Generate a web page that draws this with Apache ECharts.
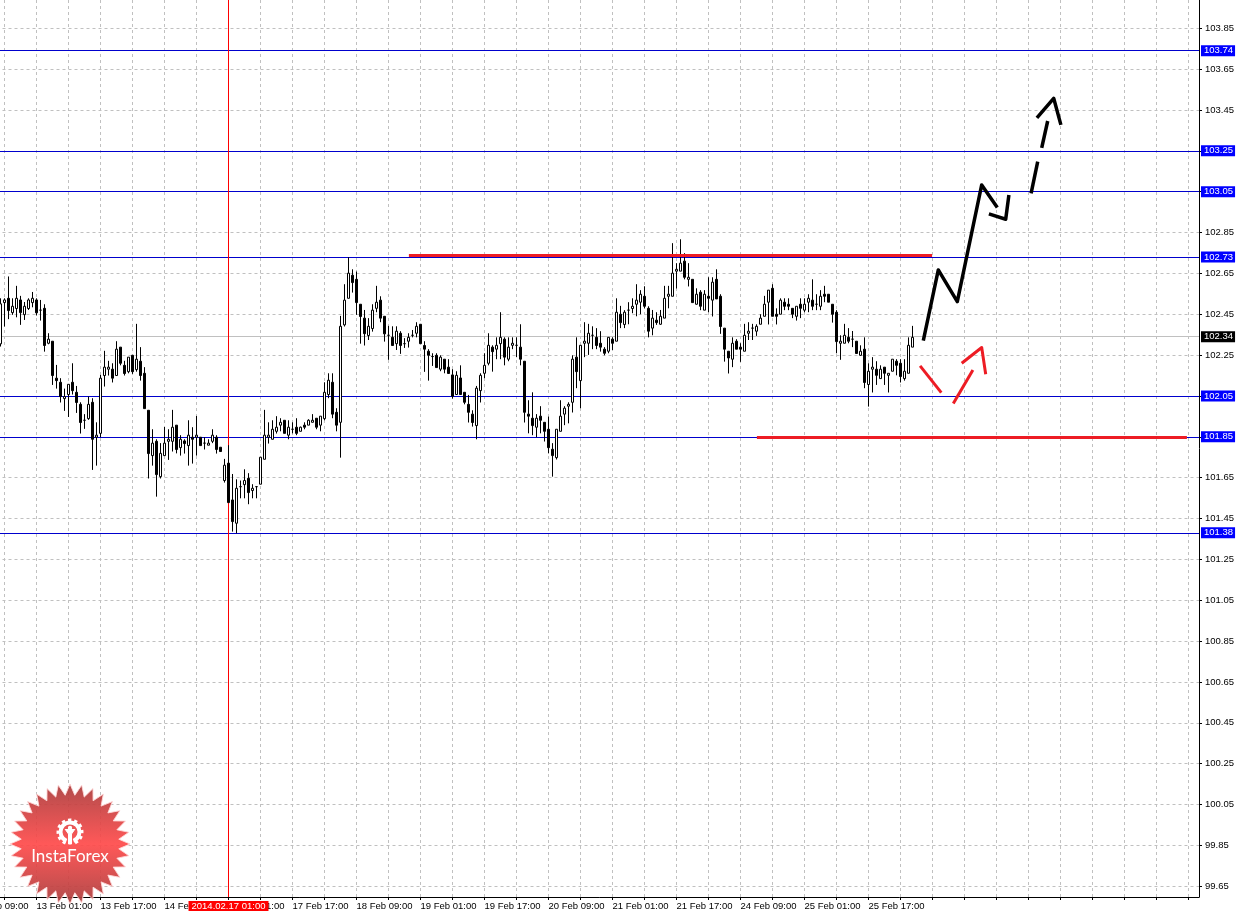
<!DOCTYPE html>
<html>
<head>
<meta charset="utf-8">
<title>USD/JPY H1</title>
<script src="https://cdn.jsdelivr.net/npm/echarts@6/dist/echarts.min.js"></script>
<style>
html, body { margin: 0; padding: 0; background: #fff; }
#chart { width: 1250px; height: 915px; }
</style>
</head>
<body>
<div id="chart"></div>
<script>
// hourly bars, first one sits at hour index 7 of the axis
const firstBar = 7
// open, close, low, high
const candles = [
  [102.305,102.501,102.292,102.528],[102.507,102.520,102.390,102.528],[102.528,102.468,102.426,102.635],[102.458,102.489,102.447,102.528],
  [102.478,102.528,102.435,102.589],[102.520,102.458,102.398,102.540],[102.448,102.489,102.422,102.510],[102.478,102.520,102.471,102.528],
  [102.507,102.528,102.484,102.559],[102.520,102.457,102.444,102.528],[102.470,102.470,102.419,102.520],[102.479,102.297,102.267,102.499],
  [102.308,102.328,102.303,102.357],[102.318,102.150,102.104,102.318],[102.137,102.125,102.086,102.202],[102.117,102.047,102.018,102.137],
  [102.037,102.047,101.977,102.086],[102.057,102.107,101.947,102.107],[102.117,102.076,102.057,102.210],[102.068,102.018,101.967,102.099],
  [102.009,101.920,101.866,102.019],[101.931,101.931,101.889,101.961],[101.939,102.009,101.933,102.047],[102.019,101.838,101.688,102.039],
  [101.848,101.858,101.709,101.921],[101.867,102.137,101.848,102.153],[102.150,102.191,102.096,102.271],[102.181,102.191,102.150,102.222],
  [102.181,102.137,102.116,102.210],[102.150,102.279,102.150,102.318],[102.289,102.210,102.200,102.289],[102.200,102.160,102.150,102.222],
  [102.169,102.240,102.161,102.240],[102.249,102.169,102.158,102.249],[102.179,102.230,102.169,102.403],[102.220,102.150,102.125,102.289],
  [102.161,101.988,101.988,102.191],[101.980,101.768,101.646,101.980],[101.758,101.819,101.709,101.887],[101.828,101.665,101.557,101.838],
  [101.655,101.769,101.646,101.819],[101.758,101.819,101.758,101.898],[101.828,101.838,101.737,101.887],[101.828,101.897,101.778,101.982],
  [101.907,101.788,101.769,101.907],[101.797,101.838,101.758,101.858],[101.830,101.817,101.768,101.838],[101.807,101.858,101.709,101.931],
  [101.848,101.838,101.719,101.897],[101.848,101.858,101.758,101.952],[101.848,101.807,101.807,101.848],[101.819,101.819,101.788,101.848],
  [101.809,101.819,101.809,101.838],[101.828,101.858,101.819,101.887],[101.848,101.788,101.768,101.858],[101.799,101.778,101.778,101.799],
  [101.636,101.711,101.626,101.742],[101.721,101.528,101.528,101.809],[101.541,101.435,101.386,101.668],[101.427,101.598,101.378,101.642],
  [101.606,101.606,101.549,101.636],[101.616,101.636,101.549,101.691],[101.647,101.577,101.520,101.672],[101.587,101.598,101.549,101.618],
  [101.606,101.606,101.549,101.606],[101.618,101.750,101.618,101.750],[101.740,101.858,101.740,101.982],[101.848,101.858,101.817,101.921],
  [101.838,101.887,101.838,101.931],[101.877,101.897,101.866,101.951],[101.907,101.921,101.877,101.941],[101.931,101.867,101.867,101.931],
  [101.858,101.897,101.838,101.931],[101.887,101.887,101.867,101.921],[101.897,101.867,101.858,101.941],[101.877,101.897,101.877,101.900],
  [101.907,101.897,101.887,101.921],[101.907,101.931,101.907,101.936],[101.921,101.931,101.921,101.961],[101.941,101.897,101.887,101.941],
  [101.907,101.951,101.877,101.951],[101.939,102.068,101.931,102.117],[102.057,102.127,102.039,102.161],[102.117,101.961,101.941,102.161],
  [101.970,101.907,101.877,101.990],[101.921,102.391,101.748,102.442],[102.398,102.519,102.390,102.597],[102.528,102.651,102.528,102.729],
  [102.641,102.605,102.556,102.670],[102.621,102.507,102.447,102.659],[102.499,102.439,102.306,102.499],[102.431,102.355,102.297,102.471],
  [102.346,102.391,102.324,102.431],[102.380,102.470,102.365,102.499],[102.479,102.509,102.460,102.589],[102.519,102.431,102.411,102.538],
  [102.440,102.354,102.316,102.440],[102.347,102.347,102.227,102.393],[102.337,102.297,102.297,102.391],[102.306,102.367,102.275,102.391],
  [102.357,102.297,102.256,102.367],[102.306,102.306,102.285,102.333],[102.318,102.337,102.287,102.357],[102.347,102.347,102.337,102.373],
  [102.357,102.391,102.337,102.411],[102.401,102.306,102.306,102.401],[102.297,102.279,102.168,102.318],[102.269,102.249,102.125,102.279],
  [102.243,102.243,102.197,102.259],[102.249,102.189,102.189,102.259],[102.181,102.240,102.171,102.249],[102.230,102.181,102.161,102.230],
  [102.191,102.160,102.160,102.230],[102.153,102.049,102.037,102.181],[102.057,102.151,102.057,102.171],[102.138,102.057,102.057,102.200],
  [102.068,102.019,102.009,102.068],[102.009,101.970,101.920,102.055],[101.961,101.920,101.900,101.980],[101.905,102.088,101.838,102.099],
  [102.076,102.151,102.018,102.161],[102.161,102.200,102.137,102.259],[102.210,102.298,102.200,102.357],[102.289,102.267,102.169,102.298],
  [102.279,102.298,102.230,102.337],[102.306,102.337,102.230,102.460],[102.328,102.240,102.200,102.337],[102.230,102.289,102.220,102.337],
  [102.298,102.308,102.279,102.337],[102.298,102.298,102.240,102.337],[102.289,102.230,102.200,102.401],[102.220,101.970,101.920,102.220],
  [101.961,101.951,101.867,102.029],[101.941,101.905,101.858,102.068],[101.897,101.941,101.848,101.961],[101.951,101.931,101.867,102.000],
  [101.921,101.877,101.827,101.921],[101.887,101.797,101.769,101.949],[101.789,101.758,101.655,101.819],[101.748,101.887,101.739,101.887],
  [101.877,101.951,101.877,102.029],[101.961,101.990,101.907,102.000],[102.000,102.009,101.916,102.019],[102.019,102.230,101.969,102.249],
  [102.240,102.169,102.088,102.337],[102.125,102.298,101.990,102.298],[102.308,102.318,102.240,102.411],[102.308,102.357,102.251,102.403],
  [102.347,102.347,102.279,102.391],[102.337,102.297,102.279,102.382],[102.308,102.289,102.267,102.367],[102.279,102.259,102.249,102.289],
  [102.269,102.337,102.259,102.337],[102.328,102.308,102.275,102.337],[102.318,102.460,102.318,102.528],[102.450,102.409,102.382,102.491],
  [102.400,102.460,102.382,102.470],[102.470,102.470,102.401,102.509],[102.478,102.489,102.455,102.528],[102.499,102.519,102.440,102.597],
  [102.509,102.548,102.450,102.568],[102.538,102.489,102.479,102.587],[102.479,102.367,102.337,102.489],[102.382,102.431,102.347,102.471],
  [102.421,102.409,102.398,102.460],[102.401,102.440,102.398,102.471],[102.431,102.528,102.431,102.589],[102.538,102.548,102.479,102.589],
  [102.538,102.651,102.538,102.798],[102.661,102.670,102.576,102.700],[102.661,102.700,102.661,102.817],[102.710,102.631,102.621,102.749],
  [102.621,102.631,102.586,102.700],[102.621,102.507,102.507,102.621],[102.499,102.548,102.497,102.577],[102.558,102.489,102.470,102.568],
  [102.470,102.548,102.470,102.568],[102.538,102.528,102.460,102.631],[102.519,102.607,102.439,102.631],[102.621,102.525,102.525,102.670],
  [102.538,102.390,102.354,102.548],[102.382,102.279,102.218,102.382],[102.269,102.236,102.160,102.269],[102.230,102.308,102.191,102.337],
  [102.318,102.279,102.279,102.328],[102.289,102.279,102.217,102.308],[102.269,102.347,102.269,102.403],[102.357,102.367,102.324,102.411],
  [102.382,102.382,102.324,102.403],[102.367,102.391,102.344,102.401],[102.401,102.431,102.401,102.450],[102.440,102.499,102.440,102.540],
  [102.509,102.568,102.400,102.568],[102.577,102.440,102.440,102.597],[102.450,102.440,102.400,102.479],[102.450,102.519,102.450,102.528],
  [102.509,102.489,102.470,102.528],[102.499,102.489,102.470,102.528],[102.479,102.450,102.431,102.479],[102.440,102.489,102.419,102.489],
  [102.499,102.479,102.431,102.528],[102.470,102.499,102.460,102.528],[102.509,102.528,102.460,102.548],[102.519,102.489,102.470,102.621],
  [102.499,102.499,102.470,102.548],[102.489,102.538,102.470,102.568],[102.548,102.538,102.509,102.589],[102.548,102.509,102.509,102.548],
  [102.499,102.450,102.409,102.499],[102.460,102.316,102.259,102.470],[102.308,102.318,102.227,102.347],[102.308,102.347,102.308,102.403],
  [102.337,102.318,102.308,102.382],[102.328,102.328,102.289,102.368],[102.318,102.258,102.256,102.318],[102.249,102.269,102.246,102.298],
  [102.279,102.116,102.088,102.337],[102.106,102.171,101.998,102.210],[102.181,102.191,102.067,102.240],[102.181,102.151,102.104,102.220],
  [102.135,102.181,102.135,102.200],[102.191,102.161,102.104,102.191],[102.151,102.161,102.067,102.161],[102.171,102.230,102.171,102.230],
  [102.220,102.200,102.151,102.230],[102.210,102.145,102.116,102.230],[102.135,102.171,102.125,102.230],[102.161,102.298,102.161,102.337],
  [102.289,102.337,102.289,102.393]
]

const priceTicks = [99.65, 99.85, 100.05, 100.25, 100.45, 100.65, 100.85, 101.05, 101.25, 101.45, 101.65, 101.85,
  102.05, 102.25, 102.45, 102.65, 102.85, 103.05, 103.25, 103.45, 103.65, 103.85]
// one label every 16 bars
const timeLabels = ['12 Feb 09:00', '13 Feb 01:00', '13 Feb 17:00', '14 Feb 09:00', '17 Feb 01:00', '17 Feb 17:00', '18 Feb 09:00',
  '19 Feb 01:00', '19 Feb 17:00', '20 Feb 09:00', '21 Feb 01:00', '21 Feb 17:00', '24 Feb 09:00', '25 Feb 01:00', '25 Feb 17:00']

const blueLevels = [103.74, 103.25, 103.05, 102.73, 102.05, 101.85, 101.38]
const lastPrice = 102.34
const cursorBar = 64
const cursorLabel = '2014.02.17 01:00'

// hand drawn forecast, [bar, price]
const blackStrokes = [
  [[237.7, 102.321], [241.45, 102.667], [241.9, 102.667], [246.2, 102.512], [252.3, 103.083], [252.55, 103.086], [256.2, 102.972]],
  [[254.1, 102.941], [258.3, 102.915], [259.1, 103.034]],
  [[264.65, 103.042], [266.3, 103.197]],
  [[267.3, 103.264], [268.8, 103.396]],
  [[266.1, 103.411], [270.3, 103.507], [272.1, 103.377]]
]
const redStrokes = [
  [[236.9, 102.197], [242.2, 102.066]],
  [[245.2, 102.013], [250.1, 102.177]],
  [[247.3, 102.21], [252.3, 102.287], [253.3, 102.156]],
  [[109.1, 102.738], [239.9, 102.738]],
  [[196.1, 101.847], [303.6, 101.847]]
]

const axisFont = { fontFamily: 'Liberation Sans', fontSize: 9.5, color: '#000' }

function strokeSeries(points, color, width) {
  return {
    type: 'line',
    data: points,
    symbol: 'none',
    z: 6,
    silent: true,
    lineStyle: { color: color, width: width, cap: 'butt', join: 'round' }
  }
}

function levelLine(value, lineColor, boxColor) {
  return {
    yAxis: value,
    lineStyle: { color: lineColor, width: 1, type: 'solid' },
    label: {
      show: true,
      position: 'end',
      distance: 2,
      formatter: value.toFixed(2),
      color: '#fff',
      fontFamily: axisFont.fontFamily,
      fontSize: axisFont.fontSize,
      backgroundColor: boxColor,
      lineHeight: 11,
      padding: [0, 2, 0, 3]
    }
  }
}

// starburst badge in the corner
function logoGraphic() {
  const cx = 70
  const cy = 844
  const spikes = 32
  const points = []
  for (let i = 0; i < spikes * 2; i++) {
    const r = i % 2 === 0 ? 60 : 49
    const a = Math.PI * i / spikes - Math.PI / 2
    points.push([cx + r * Math.cos(a), cy + r * Math.sin(a)])
  }
  const white = '#fff'
  return [
    {
      type: 'polygon',
      z: 100,
      shape: { points: points },
      style: {
        stroke: 'rgba(255,215,215,0.9)',
        lineWidth: 1,
        fill: new echarts.graphic.LinearGradient(0, 0, 0, 1, [
          { offset: 0, color: 'rgba(170,60,60,0.92)' },
          { offset: 0.5, color: 'rgba(255,74,74,0.92)' },
          { offset: 1, color: 'rgba(170,60,60,0.92)' }
        ])
      }
    },
    {
      type: 'arc',
      z: 101,
      shape: { cx: cx, cy: 832, r: 9.5, startAngle: Math.PI * 0.62, endAngle: Math.PI * 0.38, clockwise: true },
      style: { stroke: white, fill: 'none', lineWidth: 4 }
    },
    {
      type: 'arc',
      z: 101,
      shape: { cx: cx, cy: 832, r: 12, startAngle: Math.PI * 0.62, endAngle: Math.PI * 0.38, clockwise: true },
      style: { stroke: white, fill: 'none', lineWidth: 3, lineDash: [3.2, 3] }
    },
    { type: 'circle', z: 101, shape: { cx: cx, cy: 828, r: 2.2 }, style: { fill: white } },
    {
      type: 'polyline',
      z: 101,
      shape: { points: [[cx - 5, 829], [cx - 1.5, 834], [cx - 1.5, 844], [cx + 1.5, 844], [cx + 1.5, 834], [cx + 5, 829]] },
      style: { stroke: white, fill: white, lineWidth: 1 }
    },
    {
      type: 'text',
      z: 101,
      style: {
        x: cx,
        y: 857,
        text: 'InstaForex',
        fill: white,
        fontFamily: 'Lato',
        fontSize: 17,
        align: 'center',
        verticalAlign: 'middle'
      }
    }
  ]
}

const chart = echarts.init(document.getElementById('chart'))

chart.setOption({
  animation: false,
  backgroundColor: '#fff',
  grid: { left: -27.5, right: 51, top: 0, height: 897, outerBoundsMode: 'none' },
  xAxis: {
    type: 'value',
    min: 0,
    max: 306.625,
    interval: 8,
    axisLine: { onZero: false, lineStyle: { color: '#000', width: 1 } },
    axisTick: { length: 3, lineStyle: { color: '#000' } },
    axisLabel: Object.assign({}, axisFont, {
      align: 'left',
      margin: 4,
      showMaxLabel: false,
      hideOverlap: false,
      formatter: function(v) {
        return v % 16 === 0 ? (timeLabels[v / 16] || '') : ''
      }
    }),
    splitLine: { show: true, lineStyle: { color: '#c0c0c0', type: [3, 3], width: 1 } }
  },
  yAxis: {
    type: 'value',
    position: 'right',
    min: 99.5973,
    max: 103.9883,
    axisLine: { show: true, onZero: false, lineStyle: { color: '#000', width: 1 } },
    axisTick: { show: true, length: 3, lineStyle: { color: '#000' }, customValues: priceTicks },
    axisLabel: Object.assign({}, axisFont, {
      margin: 6,
      customValues: priceTicks,
      formatter: function(v) {
        return v.toFixed(2)
      }
    }),
    splitLine: { show: true, lineStyle: { color: '#c0c0c0', type: [3, 3], width: 1 } }
  },
  graphic: logoGraphic(),
  series: [
    {
      type: 'candlestick',
      z: 5,
      barWidth: 2,
      silent: true,
      itemStyle: {
        color: '#fff',
        color0: '#000',
        borderColor: '#000',
        borderColor0: '#000',
        borderColorDoji: '#000',
        borderWidth: 1
      },
      data: candles.map(function(c, i) {
        return [firstBar + i].concat(c)
      }),
      markLine: {
        z: 1,
        silent: true,
        symbol: 'none',
        data: blueLevels.map(function(v) {
          return levelLine(v, '#0000cd', '#0000ff')
        }).concat([
          levelLine(lastPrice, '#c0c0c0', '#000'),
          {
            xAxis: cursorBar,
            lineStyle: { color: '#ff0000', width: 1, type: 'solid' },
            label: {
              show: true,
              position: 'start',
              distance: 4,
              formatter: cursorLabel,
              color: '#fff',
              fontFamily: axisFont.fontFamily,
              fontSize: axisFont.fontSize,
              backgroundColor: '#ff0000',
              padding: [0, 3, 0, 3]
            }
          }
        ])
      }
    }
  ].concat(
    blackStrokes.map(function(s) {
      return strokeSeries(s, '#000', 3.5)
    }),
    redStrokes.map(function(s) {
      return strokeSeries(s, '#ed1c24', 3)
    })
  )
})
</script>
</body>
</html>
